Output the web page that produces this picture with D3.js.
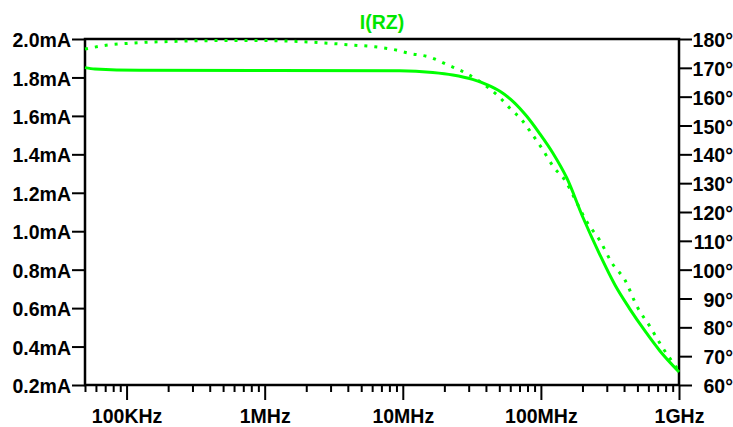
<!DOCTYPE html>
<html>
<head>
<meta charset="UTF-8" />
<style>
body { margin: 0; background: #fff; }
text { font-family: "Liberation Sans", Arial, sans-serif; font-weight: bold; }
</style>
</head>
<body>
<script src="https://d3js.org/d3.v7.min.js" charset="utf-8"></script>
<script>
var width = 733;
var height = 427;

// magnitude I(RZ), mA (solid)
var magFreq = [50e3, 59e3, 124e3, 9.5e6, 16.5e6, 23e6, 32e6, 40.6e6, 50.5e6, 62.7e6, 79e6, 98e6,
               122e6, 154e6, 201e6, 268e6, 344e6, 441e6, 567e6, 728e6, 1e9];
var magValues = [1.851, 1.844, 1.837, 1.835, 1.826, 1.813, 1.790, 1.763, 1.728, 1.676, 1.598, 1.508,
                 1.407, 1.277, 1.074, 0.876, 0.720, 0.595, 0.481, 0.377, 0.268];

// phase I(RZ), degrees (dotted)
var phaseFreq = [50e3, 72.8e3, 103e3, 142e3, 198e3, 356e3, 875e3, 1.8e6, 2.96e6, 4.35e6, 6.27e6, 8.47e6,
                 11.2e6, 15.7e6, 21.2e6, 29.6e6, 40.6e6, 49.7e6, 59.6e6, 72.8e6, 86.1e6, 101.6e6,
                 124e6, 149e6, 179e6, 215e6, 268e6, 327e6, 406e6, 497e6, 617e6, 753e6, 875e6, 1e9];
var phaseValues = [176.5, 177.9, 178.5, 178.9, 179.1, 179.4, 179.5, 179.1, 178.5, 177.9, 177.3, 176.4,
                   175.0, 173.7, 171.0, 167.8, 163.5, 160.0, 156.0, 151.9, 147.1, 142.1,
                   135.5, 131.1, 123.9, 116.6, 110.0, 102.3, 96.4, 87.2, 80.2, 73.3, 68.7, 64.9];

var leftTicks = [0.2, 0.4, 0.6, 0.8, 1.0, 1.2, 1.4, 1.6, 1.8, 2.0];
var rightTicks = [60, 70, 80, 90, 100, 110, 120, 130, 140, 150, 160, 170, 180];
var freqMajor = [1e5, 1e6, 1e7, 1e8, 1e9];
var freqLabels = ["100KHz", "1MHz", "10MHz", "100MHz", "1GHz"];
var title = "I(RZ)";

var plotLeft = 85, plotRight = 679, plotTop = 39, plotBottom = 385;
var squeeze = 0.93;
var green = "#00ff00";

var svg = d3.select("body")
			.append("svg")
			.attr("width", width)
			.attr("height", height);

var x = d3.scaleLog().domain([50e3, 1e9]).range([plotLeft, plotRight]);
var yL = d3.scaleLinear().domain([0.2, 2.0]).range([plotBottom, plotTop]);
var yR = d3.scaleLinear().domain([60, 180]).range([plotBottom, plotTop]);

// minor ticks 2..9 per decade
var freqMinor = [];
for (var e = 4; e < 9; e++) {
	for (var m = 2; m <= 9; m++) {
		var f = m * Math.pow(10, e);
		if (f >= 50e3 && f < 1e9) freqMinor.push(f);
	}
}

function styleAxis(g) {
	g.select(".domain").remove();
	g.selectAll("line").attr("stroke", "#000").attr("stroke-width", 2);
	g.selectAll("text").attr("fill", "#000").style("font-size", "21px");
}

// left axis
var gl = svg.append("g")
	.attr("transform", "translate(" + plotLeft + ",0)")
	.call(d3.axisLeft(yL).tickValues(leftTicks).tickFormat(d => d.toFixed(1) + "mA")
		.tickSize(13).tickPadding(1));
styleAxis(gl);
gl.selectAll("text")
	.attr("x", -14 / squeeze)
	.attr("dy", "0.36em")
	.attr("transform", "scale(" + squeeze + ",1)");

// right axis
var gr = svg.append("g")
	.attr("transform", "translate(" + plotRight + ",0)")
	.call(d3.axisRight(yR).tickValues(rightTicks).tickFormat(d => d + "°")
		.tickSize(13).tickPadding(1));
styleAxis(gr);
gr.selectAll("text")
	.attr("text-anchor", "end")
	.attr("x", (width - plotRight) / squeeze)
	.attr("dy", "0.36em")
	.attr("transform", "scale(" + squeeze + ",1)");

// bottom axis: minor then major
var gm = svg.append("g")
	.attr("transform", "translate(0," + plotBottom + ")")
	.call(d3.axisBottom(x).tickValues(freqMinor).tickFormat("").tickSize(7));
styleAxis(gm);

var gb = svg.append("g")
	.attr("transform", "translate(0," + plotBottom + ")")
	.call(d3.axisBottom(x).tickValues(freqMajor).tickFormat((d, i) => freqLabels[i])
		.tickSize(15).tickPadding(8));
styleAxis(gb);
gb.selectAll("text").attr("transform", "scale(" + squeeze + ",1)");

// frame
svg.append("rect")
	.attr("x", plotLeft).attr("y", plotTop)
	.attr("width", plotRight - plotLeft).attr("height", plotBottom - plotTop)
	.attr("fill", "none")
	.attr("stroke", "#000")
	.attr("stroke-width", 2.5);

// curves
var magData = magFreq.map((f, i) => [f, magValues[i]]);
var phaseData = phaseFreq.map((f, i) => [f, phaseValues[i]]);

var magLine = d3.line().x(d => x(d[0])).y(d => yL(d[1])).curve(d3.curveMonotoneX);
var phaseLine = d3.line().x(d => x(d[0])).y(d => yR(d[1])).curve(d3.curveMonotoneX);

svg.append("path")
	.datum(phaseData)
	.attr("d", phaseLine)
	.attr("fill", "none")
	.attr("stroke", green)
	.attr("stroke-width", 3)
	.attr("stroke-dasharray", "3,7");

svg.append("path")
	.datum(magData)
	.attr("d", magLine)
	.attr("fill", "none")
	.attr("stroke", green)
	.attr("stroke-width", 3);

// title
svg.append("text")
	.attr("transform", "translate(" + ((plotLeft + plotRight) / 2) + ",29) scale(" + squeeze + ",1)")
	.attr("text-anchor", "middle")
	.attr("fill", "#00e600")
	.style("font-size", "21px")
	.text(title);
</script>
</body>
</html>
